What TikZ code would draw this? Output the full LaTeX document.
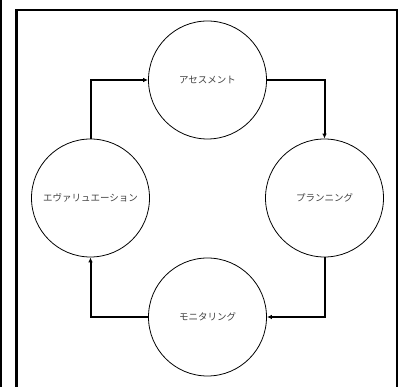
\documentclass[tikz,border=0pt]{standalone}
\usepackage{fontspec}
\newfontfamily\jp{Noto Sans CJK JP}
\usetikzlibrary{arrows.meta}
\begin{document}
\begin{tikzpicture}[x=1pt,y=1pt,
  stage/.style={circle,draw=black,line width=0.8pt,minimum size=118pt,inner sep=0pt,
    font=\jp\fontsize{9.5}{11}\selectfont,text=black!75},
  flow/.style={line width=2pt,-{Latex[length=5pt,width=4.5pt]}},
  frameline/.style={line width=2.4pt}]
\useasboundingbox (0,0) rectangle (401,387);
\draw[frameline] (0.8,0) -- (0.8,387);
\draw[frameline] (16.5,0) -- (16.5,377) -- (396.8,377) -- (396.8,0);
\node[stage] (a) at (207.5,307) {アセスメント};
\node[stage] (p) at (324.5,189) {プランニング};
\node[stage] (m) at (207.5,70) {モニタリング};
\node[stage] (e) at (90.5,189) {エヴァリュエーション};
\draw[flow] (e.north) |- (a.west);
\draw[flow] (a.east) -| (p.north);
\draw[flow] (p.south) |- (m.east);
\draw[flow] (m.west) -| (e.south);
\end{tikzpicture}
\end{document}
